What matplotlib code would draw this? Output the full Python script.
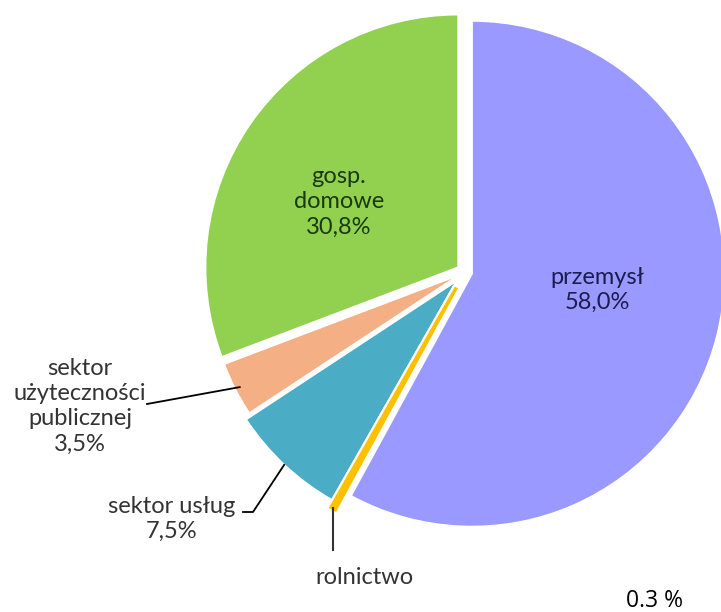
import matplotlib
matplotlib.use("Agg")
import matplotlib.pyplot as plt
import matplotlib.patheffects as pe
import numpy as np

# shares of energy use by sector (clockwise from the top)
sectors = ["przemysł", "rolnictwo", "sektor usług", "sektor użyteczności publicznej", "gosp. domowe"]
shares = [58.0, 0.3, 7.5, 3.5, 30.8]
labels = ["przemysł\n58,0%", "rolnictwo", "sektor usług\n7,5%",
          "sektor\nużyteczności\npublicznej\n3,5%", "gosp.\ndomowe\n30,8%"]
colors = ["#9999FF", "#FFC000", "#4BACC6", "#F4AF84", "#92D050"]
explode = [0.028, 0.07, 0.045, 0.02, 0.032]

plt.rcParams['font.family'] = ['Lato', 'DejaVu Sans']

fig = plt.figure(figsize=(7.21, 6.12), dpi=100)
ax = fig.add_axes([0, 0, 1, 1])

# pixel -> data helper (pie centre at 465,272 px, radius 253 px)
cx, cy, R = 465.0, 272.0, 253.0
def px(x, y):
    return (x - cx) / R, (cy - y) / R

wedges, _ = ax.pie(shares, colors=colors, explode=explode, startangle=90,
                   counterclock=False, radius=1.0,
                   wedgeprops=dict(edgecolor='white', linewidth=1.5))

# the thin rolnictwo slice is drawn as a yellow band with a white rim
wedges[1].set_edgecolor(colors[1])
wedges[1].set_linewidth(2.5)
wedges[1].set_zorder(5)
wedges[1].set_path_effects([pe.Stroke(linewidth=5.5, foreground='white'), pe.Normal()])

ax.set_aspect('auto')
ax.set_xlim(px(0, 0)[0], px(721, 0)[0])
ax.set_ylim(px(0, 612)[1], px(0, 0)[1])
ax.axis('off')

def anchor(w, r=1.0):
    mid = np.deg2rad((w.theta1 + w.theta2) / 2)
    return w.center[0] + r * np.cos(mid), w.center[1] + r * np.sin(mid)

fs = 17
grey = "#333333"

# inside labels
ax.text(*px(597, 290), labels[0], ha='center', va='center', fontsize=fs,
        color="#1C1C50", linespacing=1.25)
ax.text(*px(339, 202), labels[4], ha='center', va='center', fontsize=fs,
        color="#1A3A0A", linespacing=1.25)

# sektor użyteczności publicznej
ax.text(*px(80, 406), labels[3], ha='center', va='center', fontsize=fs,
        color=grey, linespacing=1.25)
a = anchor(wedges[3], 0.98)
s = px(147, 404)
ax.plot([s[0], a[0]], [s[1], a[1]], color='black', lw=1.3)

# sektor usług
ax.text(*px(172, 519), labels[2], ha='center', va='center', fontsize=fs,
        color=grey, linespacing=1.25)
a = anchor(wedges[2], 1.0)
p1 = px(243, 512)
p2 = px(253, 512)
ax.plot([p1[0], p2[0], a[0]], [p1[1], p2[1], a[1]], color='black', lw=1.3)

# rolnictwo
ax.text(*px(364, 578), labels[1], ha='center', va='center', fontsize=fs,
        color=grey)
a = anchor(wedges[1], 1.0)
b = px(0, 550)
ax.plot([a[0], a[0]], [a[1], b[1]], color='#333333', lw=1.5, zorder=6)

# stray value
ax.text(*px(654, 601), "0.3 %", ha='center', va='center', fontsize=16.5,
        color='black', family=['Open Sans', 'DejaVu Sans'])

fig.savefig("out.png", dpi=100)
